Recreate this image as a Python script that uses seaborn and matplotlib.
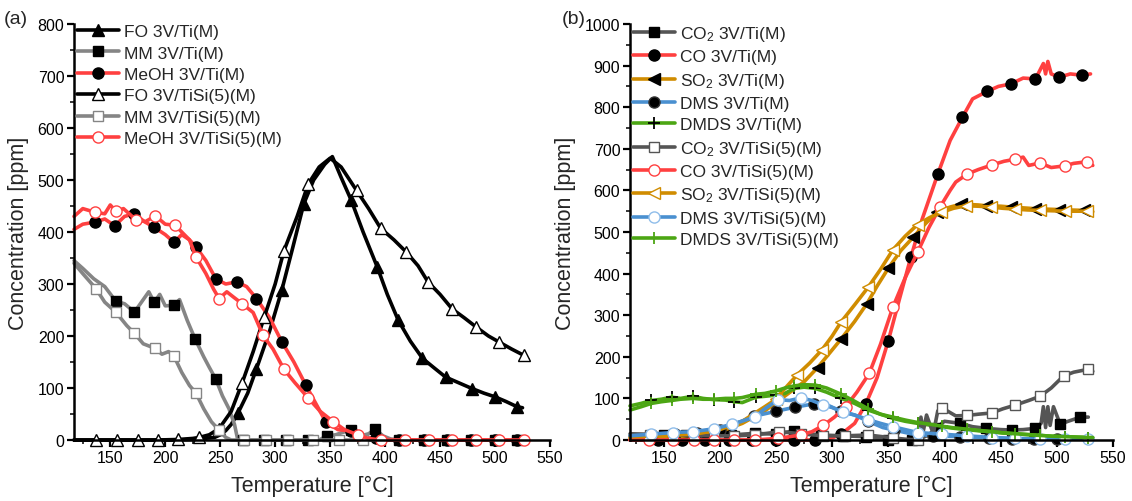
import matplotlib
matplotlib.use("Agg")
import matplotlib.pyplot as plt
from matplotlib.lines import Line2D
import seaborn as sns

sns.set_theme(style="ticks")
plt.rcParams['font.family'] = ['Liberation Sans', 'DejaVu Sans']
plt.rcParams['mathtext.fontset'] = 'custom'
plt.rcParams['mathtext.rm'] = 'Liberation Sans'
plt.rcParams['mathtext.it'] = 'Liberation Sans:italic'

# ---------------- Panel (a) data ----------------
fo_ti_x = [117,130,150,170,190,203,210,224,235,245,250,255,260,266,275,283,295,306,316,326,335,345,352,360,369,380,393,402,412,423,434,445,455,467,479,490,500,510,520,525]
fo_ti_y = [0,0,0,0,0,0,0,1,3,5,10,18,30,51,90,137,210,288,370,454,500,530,545,505,462,400,332,280,230,190,157,138,121,110,99,90,83,74,64,62]
fo_ti_m = [266,283,306,326,369,393,412,434,455,479,500,520]

fo_tisi_x = [117,137,156,175,193,212,225,231,240,249,260,270,280,290,300,308,320,330,340,350,360,374,385,396,408,419,430,439,450,461,472,483,494,504,515,526,530]
fo_tisi_y = [0,0,0,0,0,1,3,5,10,22,55,110,170,236,300,364,430,492,525,542,525,480,445,407,385,362,335,304,280,252,235,217,200,188,175,163,155]
fo_tisi_m = [137,156,175,193,212,231,249,270,290,308,330,374,396,419,439,461,483,504,526]

mm_ti_x = [117,125,135,145,155,163,172,180,185,190,195,200,208,213,220,227,235,240,246,252,258,263,266,271,290,310,330,340,347,355,362,369,378,385,391,398,405,413,435,456,478,500,520]
mm_ti_y = [345,330,310,295,267,262,246,270,285,265,280,258,259,270,230,195,160,140,117,85,60,30,0,0,0,0,0,0,8,10,15,19,8,12,21,8,2,0,0,0,0,0,0]
mm_ti_m = [155,172,190,208,227,246,271,290,310,330,347,369,391,413,435,456,478,500,520]

mm_tisi_x = [117,125,137,145,155,165,172,180,191,197,203,208,215,222,228,235,242,249,255,260,272,292,312,334,358,380,400,420]
mm_tisi_y = [340,320,291,265,246,220,205,185,176,165,170,161,130,105,90,60,35,19,5,0,0,0,0,0,0,0,0,0]
mm_tisi_m = [137,155,172,191,208,228,249,272,292,312,334,358,380]

meoh_ti_x = [117,125,136,145,154,163,172,181,190,200,208,215,222,228,237,246,255,265,274,283,295,306,317,328,337,346,357,369,380,392,400,413,435,456,478,500,520,528]
meoh_ti_y = [405,415,419,425,412,430,435,420,409,395,380,395,385,371,345,310,300,304,295,272,235,189,150,105,70,35,20,17,5,3,1,0,0,0,0,0,0,0]
meoh_ti_m = [136,154,172,190,208,228,246,265,283,306,328,346,369,392,413,435,456,478,500,520]

meoh_tisi_x = [117,125,136,145,150,155,162,173,182,191,200,209,215,222,228,237,244,249,256,262,270,280,289,298,308,318,330,341,353,363,375,385,396,418,440,461,483,504,526]
meoh_tisi_y = [430,445,438,435,452,440,445,424,420,431,415,413,400,385,352,320,290,272,285,275,262,245,201,175,136,110,81,55,35,20,10,3,0,0,0,0,0,0,0]
meoh_tisi_m = [136,155,173,191,209,228,249,270,289,308,330,353,375,396,418,440,461,483,504,526]

# ---------------- Panel (b) data ----------------
co2_ti_x = [120,150,170,190,210,231,250,266,280,290,310,330,350,371,380,388,393,400,414,425,437,450,460,470,481,486,488,490,492,494,497,503,510,521,528]
co2_ti_y = [15,13,13,12,12,16,14,22,15,12,10,8,0,0,5,15,30,45,40,32,28,25,24,25,28,40,80,30,80,35,80,38,45,55,55]
co2_ti_m = [150,170,190,210,231,250,266,290,310,330,350,371,393,414,437,460,481,503,521]

co_ti_x = [120,145,166,187,208,229,250,266,285,300,308,320,330,340,350,360,370,380,394,405,416,425,438,448,459,470,481,488,490,492,495,502,512,522,530]
co_ti_y = [0,0,0,0,0,0,0,0,0,5,14,40,87,150,239,340,439,530,639,720,776,820,838,850,856,870,868,905,880,910,880,872,880,877,880]
co_ti_m = [145,166,187,208,229,250,266,285,308,330,350,370,394,416,438,459,481,502,522]

so2_ti_x = [120,140,160,180,200,220,240,260,275,287,298,308,320,331,340,350,361,372,383,393,405,415,430,437,450,459,470,481,490,502,510,524,530]
so2_ti_y = [5,6,8,12,20,40,70,110,140,174,210,243,285,328,370,413,455,487,520,547,560,567,565,563,562,560,558,556,555,554,553,552,552]
so2_ti_m = [287,308,331,350,372,393,415,437,459,481,502,524]

dms_ti_x = [120,140,160,180,200,215,230,250,267,284,295,308,320,332,345,355,370,390,414,440,460,480,500,530]
dms_ti_y = [10,12,15,18,25,40,57,69,79,87,85,69,60,45,30,24,15,10,8,5,3,2,2,2]
dms_ti_m = [140,160,180,200,230,250,267,284,308,332,355,390,414,440,460,480,500]

grid_b = [120,130,139,148,157,165,176,185,195,205,213,220,232,240,250,258,266,275,285,295,308,320,332,343,354,365,376,387,398,409,420,431,442,452,463,474,485,496,507,517,528,532]
dmds_ti_y = [82,88,95,98,103,100,105,100,97,96,92,90,103,105,108,112,124,127,124,115,100,88,72,62,52,45,40,36,32,28,25,22,20,17,15,13,11,9,8,7,6,5]
dmds_ti_m = [139,157,176,195,213,232,250,266,285,308,332,354,376,398,420,442,463,485,507,528]

co2_tisi_x = [120,138,158,176,195,213,231,253,272,292,311,332,354,365,376,379,381,384,390,394,398,410,420,430,442,452,463,475,485,495,506,515,528,532]
co2_tisi_y = [10,12,12,11,10,10,12,20,15,10,10,12,5,2,0,55,20,60,15,70,77,58,59,62,65,75,84,95,105,125,154,163,170,165]
co2_tisi_m = [138,158,176,195,213,231,253,272,292,311,332,354,376,398,420,442,463,485,506,528]

co_tisi_x = [120,137,158,177,195,213,231,252,272,282,292,302,312,322,333,343,354,365,376,386,396,405,410,420,430,442,453,463,470,475,485,495,507,515,527,532]
co_tisi_y = [0,0,0,0,0,0,0,4,12,20,35,55,80,115,160,230,319,390,451,510,560,600,620,639,650,661,670,675,680,660,666,655,659,665,669,660]
co_tisi_m = [137,158,177,195,213,231,252,272,292,312,333,354,376,396,420,442,463,485,507,527]

so2_tisi_x = [120,150,180,200,220,240,250,255,269,280,291,300,308,320,332,343,354,365,376,387,397,408,419,430,441,452,463,474,485,496,507,517,527,532]
so2_tisi_y = [8,10,15,25,45,80,98,115,157,185,217,250,284,325,367,410,457,490,518,535,547,557,563,562,560,557,555,553,552,551,550,550,550,549]
so2_tisi_m = [250,269,291,308,332,354,376,397,419,441,463,485,507,527]

dms_tisi_x = [120,139,158,176,195,211,231,240,252,262,272,282,292,300,310,320,332,343,354,365,376,387,398,409,420,431,442,463,485,507,528]
dms_tisi_y = [10,14,18,20,27,38,55,75,97,95,101,95,84,78,67,60,49,40,32,25,18,16,14,12,10,8,6,4,2,2,2]
dms_tisi_m = [139,158,176,195,211,231,252,272,292,310,332,354,376,398,420,442,463,485,507,528]

dmds_tisi_y = [72,80,88,92,95,98,100,98,98,100,100,102,110,112,118,125,130,133,132,125,110,93,75,62,55,48,42,38,33,29,26,23,20,17,15,13,11,9,8,7,6,6]
dmds_tisi_m = [139,157,176,195,213,232,250,266,285,308,332,354,376,398,420,442,463,485,507,528]

# ---------------- figure ----------------
W, H = 1132, 502
fig = plt.figure(figsize=(W/100, H/100), dpi=100)
ax1 = fig.add_axes([74/W, 1-441/H, (550-74)/W, (441-25)/H])
ax2 = fig.add_axes([630/W, 1-441/H, (1113-630)/W, (441-25)/H])

LW = 2.6

def draw(ax, x, y, mx, color, marker, mfc, mec, ms, mew=1.0):
    idx = [x.index(m) for m in mx]
    sns.lineplot(x=x, y=y, ax=ax, color=color, lw=LW, sort=False, estimator=None,
                 marker=marker, markevery=idx, mfc=mfc, mec=mec, ms=ms, mew=mew,
                 clip_on=False, legend=False)
    return Line2D([], [], color=color, lw=LW, marker=marker, mfc=mfc, mec=mec, ms=ms, mew=mew)

BLACK = '#000000'
GRAY = '#858585'
RED = '#ff4040'
DGRAY = '#555555'
ORANGE = '#d08c00'
BLUE = '#4a90d0'
LBLUE = '#8fbdea'
GREEN = '#4ca614'

ha = []
ha.append((draw(ax1, fo_ti_x, fo_ti_y, fo_ti_m, BLACK, '^', BLACK, BLACK, 8), 'FO 3V/Ti(M)'))
ha.append((draw(ax1, mm_ti_x, mm_ti_y, mm_ti_m, GRAY, 's', BLACK, BLACK, 7.5), 'MM 3V/Ti(M)'))
ha.append((draw(ax1, meoh_ti_x, meoh_ti_y, meoh_ti_m, RED, 'o', BLACK, BLACK, 8), 'MeOH 3V/Ti(M)'))
ha.append((draw(ax1, fo_tisi_x, fo_tisi_y, fo_tisi_m, BLACK, '^', 'white', BLACK, 8), 'FO 3V/TiSi(5)(M)'))
ha.append((draw(ax1, mm_tisi_x, mm_tisi_y, mm_tisi_m, GRAY, 's', 'white', GRAY, 7.5), 'MM 3V/TiSi(5)(M)'))
ha.append((draw(ax1, meoh_tisi_x, meoh_tisi_y, meoh_tisi_m, RED, 'o', 'white', RED, 8), 'MeOH 3V/TiSi(5)(M)'))

hb = []
hb.append((draw(ax2, co2_ti_x, co2_ti_y, co2_ti_m, DGRAY, 's', BLACK, BLACK, 7.5), 'CO$_2$ 3V/Ti(M)'))
hb.append((draw(ax2, co_ti_x, co_ti_y, co_ti_m, RED, 'o', BLACK, BLACK, 8), 'CO 3V/Ti(M)'))
hb.append((draw(ax2, so2_ti_x, so2_ti_y, so2_ti_m, ORANGE, '<', BLACK, BLACK, 8), 'SO$_2$ 3V/Ti(M)'))
hb.append((draw(ax2, dms_ti_x, dms_ti_y, dms_ti_m, BLUE, 'o', BLACK, '#333333', 8), 'DMS 3V/Ti(M)'))
hb.append((draw(ax2, grid_b, dmds_ti_y, dmds_ti_m, GREEN, '+', BLACK, BLACK, 9, 1.3), 'DMDS 3V/Ti(M)'))
hb.append((draw(ax2, co2_tisi_x, co2_tisi_y, co2_tisi_m, DGRAY, 's', 'white', DGRAY, 7.5), 'CO$_2$ 3V/TiSi(5)(M)'))
hb.append((draw(ax2, co_tisi_x, co_tisi_y, co_tisi_m, RED, 'o', 'white', RED, 8), 'CO 3V/TiSi(5)(M)'))
hb.append((draw(ax2, so2_tisi_x, so2_tisi_y, so2_tisi_m, ORANGE, '<', 'white', ORANGE, 8), 'SO$_2$ 3V/TiSi(5)(M)'))
hb.append((draw(ax2, dms_tisi_x, dms_tisi_y, dms_tisi_m, BLUE, 'o', 'white', LBLUE, 8), 'DMS 3V/TiSi(5)(M)'))
hb.append((draw(ax2, grid_b, dmds_tisi_y, dmds_tisi_m, GREEN, '+', GREEN, GREEN, 9, 1.3), 'DMDS 3V/TiSi(5)(M)'))

for ax, top in ((ax1, 800), (ax2, 1000)):
    ax.set_ylim(0, top)
    ax.set_yticks(range(0, top + 1, 100))
    ax.set_yticks(range(50, top, 100), minor=True)
    ax.set_xticks(range(150, 551, 50))
    ax.set_xticks(range(125, 551, 50), minor=True)
    for s in ('top', 'right'):
        ax.spines[s].set_visible(False)
    for s in ('left', 'bottom'):
        ax.spines[s].set_linewidth(1.8)
        ax.spines[s].set_color('black')
    ax.tick_params(which='major', direction='out', length=5, width=1.6, labelsize=11.5, pad=2, colors='black')
    ax.tick_params(which='minor', direction='out', length=3, width=1.3)
    ax.set_xlabel('Temperature [°C]', fontsize=15.5, labelpad=7)
    ax.set_ylabel('Concentration [ppm]', fontsize=15.5, labelpad=6)
    ax.set_facecolor('white')

ax1.set_xlim(117, 550)
ax2.set_xlim(120, 550)

ax1.legend([h for h, _ in ha], [l for _, l in ha], loc='upper left',
           bbox_to_anchor=(77/W, 1-25/H), bbox_transform=fig.transFigure,
           frameon=False, fontsize=12.5, handlelength=2.4, handletextpad=0.3,
           labelspacing=0.36, borderpad=0, borderaxespad=0)
ax2.legend([h for h, _ in hb], [l for _, l in hb], loc='upper left',
           bbox_to_anchor=(633/W, 1-25/H), bbox_transform=fig.transFigure,
           frameon=False, fontsize=12.5, handlelength=2.4, handletextpad=0.3,
           labelspacing=0.36, borderpad=0, borderaxespad=0)

fig.text(4/W, 1-20/H, '(a)', fontsize=14, va='center', ha='left')
fig.text(562/W, 1-20/H, '(b)', fontsize=14, va='center', ha='left')

fig.savefig('out.png', dpi=100, facecolor='white')
